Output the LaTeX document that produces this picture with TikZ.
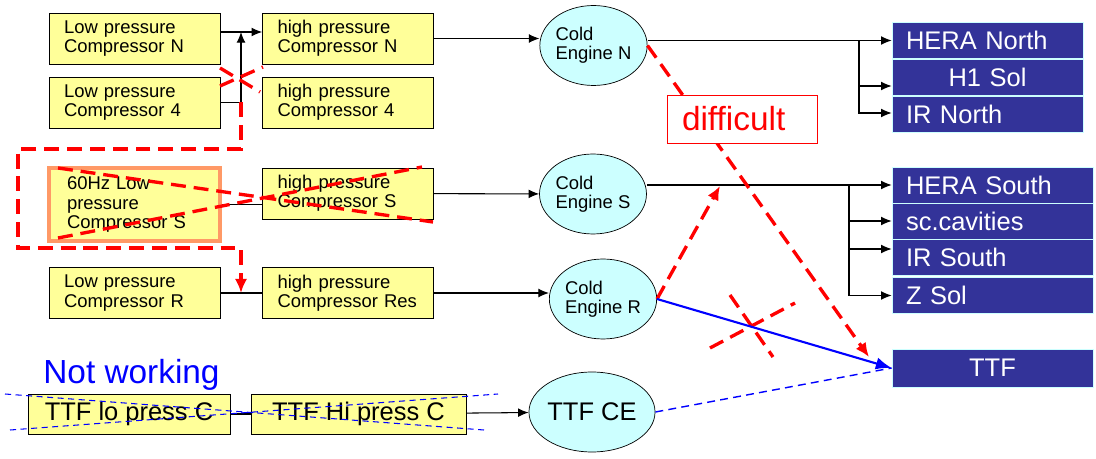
\documentclass[tikz,border=0pt]{standalone}
\usepackage{fontspec}
\setmainfont{Liberation Sans}
\usetikzlibrary{shapes.geometric, arrows.meta}
\definecolor{boxyellow}{HTML}{FFFF99}
\definecolor{engcyan}{HTML}{CCFFFF}
\definecolor{destblue}{HTML}{333399}
\definecolor{hzorange}{HTML}{FF9966}

\begin{document}
\begin{tikzpicture}[x=0.02cm, y=-0.02cm,
    comp/.style={draw, fill=boxyellow, minimum width=3.42cm, minimum height=1.02cm,
                 text width=2.82cm, inner xsep=0.3cm, align=left, font=\fontsize{10.5}{11}\selectfont},
    engine/.style={ellipse, draw, fill=engcyan, minimum width=2.14cm, minimum height=1.6cm,
                   inner sep=0pt, align=left, font=\fontsize{10.5}{11}\selectfont},
    dest/.style={draw=engcyan, fill=destblue, text=white, inner xsep=0.28cm,
                 minimum height=0.72cm, font=\fontsize{14.5}{16}\selectfont},
    ttfbox/.style={draw, fill=boxyellow, minimum height=0.8cm, font=\fontsize{14.5}{16}\selectfont},
    link/.style={line width=0.6pt},
    arr/.style={link, -{Latex[length=6pt,width=5pt]}},
    redline/.style={red, line width=1.9pt, dash pattern=on 8.5pt off 4.5pt},
    redarr/.style={redline, -{Latex[length=8pt,width=7pt]}},
    strike/.style={blue, line width=0.6pt, dash pattern=on 3.5pt off 2.5pt}
]
    \useasboundingbox (0,0) rectangle (1096,459);

    % Compressors (left and right column)
    \node[comp] (lpN) at (134.5,38.5) {Low pressure\\Compressor N};
    \node[comp] (lp4) at (134.5,102.5) {Low pressure\\Compressor 4};
    \node[comp, draw=hzorange, line width=0.08cm, minimum height=1.46cm,
          text width=2.7cm, inner xsep=0.36cm] (lpS) at (134.5,204.5) {60Hz Low\\pressure\\Compressor S};
    \node[comp] (lpR) at (134.5,293) {Low pressure\\Compressor R};
    \node[comp] (hpN) at (348,38.5) {high pressure\\Compressor N};
    \node[comp] (hp4) at (348,102.5) {high pressure\\Compressor 4};
    \node[comp] (hpS) at (348,193.5) {high pressure\\Compressor S};
    \node[comp] (hpR) at (348,293) {high pressure\\Compressor Res};

    % Cold engines
    \node[engine] (ceN) at (593.5,45.5) {Cold\\Engine N};
    \node[engine] (ceS) at (593,194) {Cold\\Engine S};
    \node[engine] (ceR) at (603,299) {Cold\\Engine R};
    \node[engine, align=center, font=\fontsize{14.5}{16}\selectfont] (ttfce) at (592,412) {TTF CE};

    % Users
    \node[dest, text width=3.26cm, align=left] (heraN) at (987.5,40.5) {HERA North};
    \node[dest, text width=3.26cm, align=center] (h1) at (987.5,77) {H1 Sol};
    \node[dest, text width=3.26cm, align=left] (irN) at (987.5,114.5) {IR North};
    \node[dest, text width=3.46cm, align=left] (heraS) at (992.5,185) {HERA South};
    \node[dest, text width=3.46cm, align=left] (sc) at (992.5,221) {sc.cavities};
    \node[dest, text width=3.46cm, align=left] (irS) at (992.5,257.5) {IR South};
    \node[dest, text width=3.46cm, align=left] (zSol) at (992.5,295.5) {Z Sol};
    \node[dest, text width=3.46cm, align=center, minimum height=0.76cm] (ttf) at (992.5,368) {TTF};

    % TTF chain
    \node[ttfbox, minimum width=4.04cm] (ttflo) at (129,414) {TTF lo press C};
    \node[ttfbox, minimum width=4.3cm] (ttfhi) at (358.5,414) {TTF Hi press C};
    \node[text=blue, anchor=base west, inner sep=0pt, font=\fontsize{19}{21}\selectfont] (notw) at (43,383) {Not working};

    % Black connections
    \coordinate (jN) at (241,32);
    \draw[arr] (lpN.east |- jN) -- (hpN.west |- jN);
    \draw[arr] (lp4.east) -| (jN);
    \draw[link] (lpS.east) -- (lpS.east -| hpS.west);
    \draw[link] (lpR) -- (hpR);
    \draw[arr] (hpN.east) -- (hpN.east -| ceN.west);
    \draw[arr] (hpS) -- (ceS);
    \draw[arr] (hpR.east) -- (hpR.east -| ceR.west);
    \draw[link] (ttflo) -- (ttfhi);
    \draw[arr] (ttfhi) -- (ttfce);

    \coordinate (brN) at (859,40.5);
    \coordinate (brS) at (849,185);
    \draw[arr] (heraN.west -| ceN.east) -- (heraN);
    \draw[arr] (brN) |- ([yshift=-0.18cm]h1.west);
    \draw[arr] (brN) |- ([yshift=0.03cm]irN.west);
    \draw[arr] (heraS.west -| ceS.east) -- (heraS);
    \draw[arr] (brS) |- (sc);
    \draw[arr] (brS) |- ([yshift=0.17cm]irS.west);
    \draw[arr] (brS) |- (zSol);

    % Red remarks
    \coordinate (j4) at (lp4.east -| jN);
    \coordinate (jR) at (lpR.east -| jN);
    \draw[redarr] (j4) |- (18,149) |- (241,248) -- (jR);
    \draw[redline] (220,68) -- (260,92) (220,86) -- (263,67);
    \draw[redline] (58,168) -- (433,222) (58,238) -- (422,167);

    \coordinate (tipT) at (869,357);
    \coordinate (tipS) at (720,186);
    \draw[redarr] (ceN.east) -- (tipT);
    \draw[redarr] (ceR.east) -- (tipS);
    \draw[redline] (710,348) -- (795,303) (730,295) -- (773,357);

    % Blue remarks
    \draw[blue, line width=1.2pt, -{Latex[length=9pt,width=7pt]}] (ceR.east) -- (ttf.west);
    \draw[blue, line width=0.8pt, dash pattern=on 4.5pt off 3pt] (ttfce.east) -- (ttf.west);
    \draw[strike] (5,394) -- (484,430) (10,430) -- (498,394);

    \node[draw=red, fill=white, text=red, minimum width=3cm, minimum height=0.96cm,
          text width=2.4cm, inner xsep=0.3cm, align=left,
          font=\fontsize{19}{21}\selectfont] (diff) at (742,119) {difficult};
\end{tikzpicture}
\end{document}
